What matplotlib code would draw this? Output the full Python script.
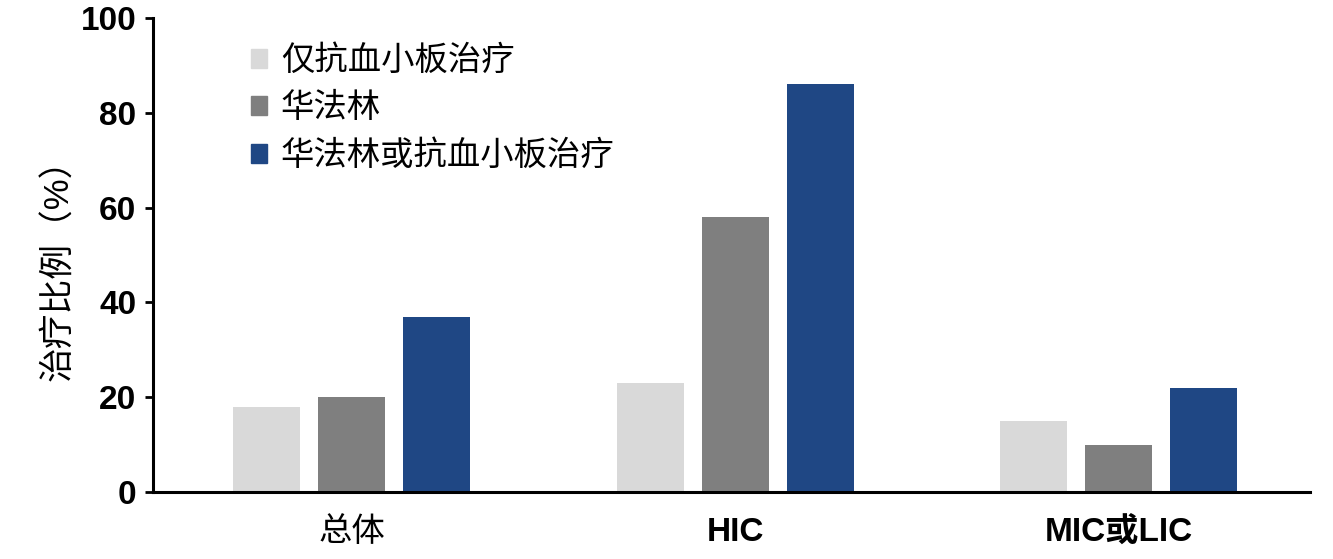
import numpy as np
import matplotlib.pyplot as plt
from matplotlib.patches import Patch

plt.rcParams['font.family'] = ['Liberation Sans', 'Noto Sans CJK SC', 'DejaVu Sans']

categories = ['总体', 'HIC', 'MIC或LIC']
series_names = ['仅抗血小板治疗', '华法林', '华法林或抗血小板治疗']
antiplatelet_only = [18, 23, 15]
warfarin = [20, 58, 10]
warfarin_or_antiplatelet = [37, 86, 22]
yticks = [0, 20, 40, 60, 80, 100]

colors = ['#d9d9d9', '#7f7f7f', '#1f4784']

fig = plt.figure(figsize=(13.33, 5.59), dpi=100)
ax = fig.add_axes([0.1148, 0.1199, 0.868, 0.848])

x = np.arange(len(categories))
width = 0.175
step = 0.2215
for i, (vals, name) in enumerate(zip([antiplatelet_only, warfarin, warfarin_or_antiplatelet], series_names)):
    ax.bar(x + (i - 1) * step, vals, width, color=colors[i], label=name)

ax.set_xlim(-0.5176, 2.499)
ax.set_ylim(0, 100)
ax.set_yticks(yticks)
ax.set_yticklabels([str(v) for v in yticks], fontsize=24, fontweight='bold')
ax.set_xticks(x)
ax.set_xticklabels(categories, fontsize=24)
for lbl in ax.get_xticklabels()[1:]:
    lbl.set_fontweight('bold')
ax.tick_params(axis='x', length=0, pad=18)
ax.tick_params(axis='y', length=6, width=2, direction='out', pad=6)

for s in ['top', 'right']:
    ax.spines[s].set_visible(False)
for s in ['left', 'bottom']:
    ax.spines[s].set_linewidth(2.2)

ax.set_ylabel('治疗比例（%）', fontsize=25)
ax.yaxis.set_label_coords(-0.067, 0.487)

handles = [Patch(color=c) for c in colors]
ax.legend(handles, series_names, loc='upper left', bbox_to_anchor=(0.073, 0.970),
          borderaxespad=0, frameon=False, fontsize=24, handlelength=0.48,
          handleheight=0.48, handletextpad=0.42, labelspacing=0.48)

fig.savefig('out.png', dpi=100)
